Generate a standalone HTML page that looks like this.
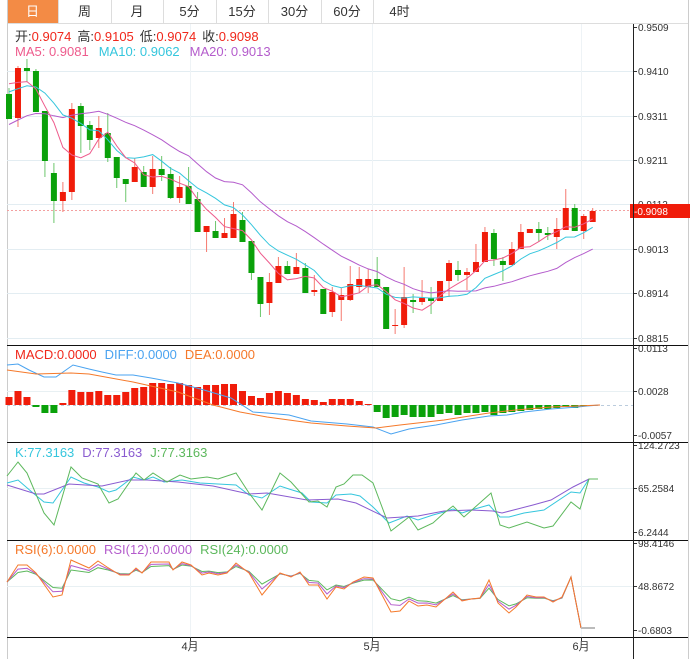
<!DOCTYPE html>
<html><head><meta charset="utf-8"><style>
body{margin:0;background:#fff;width:690px;height:659px;overflow:hidden;font-family:"Liberation Sans","Noto Sans CJK SC",sans-serif;}
svg{position:absolute;left:0;top:0}
</style></head><body>
<svg id="s" width="690" height="659" xmlns="http://www.w3.org/2000/svg" font-family="Liberation Sans, Noto Sans CJK SC, sans-serif"></svg>
<script>
var S=document.getElementById('s'),h='',SP=8.98;
function L(x1,y1,x2,y2,c,w,d){h+='<line x1="'+x1+'" y1="'+y1+'" x2="'+x2+'" y2="'+y2+'" stroke="'+c+'" stroke-width="'+(w||1)+'"'+(d?' stroke-dasharray="'+d+'"':'')+'/>';}
function R(x,y,w,hh,c){h+='<rect x="'+x+'" y="'+y+'" width="'+w+'" height="'+hh+'" fill="'+c+'"/>';}
function T(x,y,t,c,s,a){h+='<text x="'+x+'" y="'+y+'" fill="'+c+'" font-size="'+(s||12)+'"'+(a?' text-anchor="'+a+'"':'')+'>'+t+'</text>';}
function P(pts,c,w){h+='<polyline fill="none" stroke="'+c+'" stroke-width="'+(w||1)+'" points="'+pts.map(function(p){return p[0]+','+p[1]}).join(' ')+'"/>';}
var tabs=['日','周','月','5分','15分','30分','60分','4时'],tx=[7,58,111,163,216,268,321,373,426];
R(tx[0],0,51,23,'#f38b45');
for(var i=0;i<8;i++){if(i>0)L(tx[i]+.5,0,tx[i]+.5,23,'#ddd');T((tx[i]+tx[i+1])/2,16,tabs[i],i==0?'#fff':'#333',13,'middle');}
L(7,23.5,688,23.5,'#ddd');L(688.5,0,688.5,659,'#ccc');L(7.5,0,7.5,659,'#ccc');
var gy=[71,116,160,204,249,293,338];gy.forEach(function(y){L(7,y+.5,633,y+.5,'#e3edf2');});
[391,488,586].forEach(function(y){L(7,y+.5,633,y+.5,'#e8f0f3');});
[190,372,581].forEach(function(x){L(x+.5,24,x+.5,637,'#eef3f6');});
var pl=[[27,'0.9509'],[71,'0.9410'],[116,'0.9311'],[160,'0.9211'],[204,'0.9112'],[249,'0.9013'],[293,'0.8914'],[338,'0.8815'],[348,'0.0113'],[391,'0.0028'],[435,'-0.0057'],[445,'124.2723'],[488,'65.2584'],[532,'6.2444'],[543,'98.4146'],[586,'48.8672'],[630,'-0.6803']];
pl.forEach(function(p){L(633,p[0]+.5,637,p[0]+.5,'#333');T(638,p[0]+4,p[1],'#333',10);});
var C=[['g',94,119,88,119],['r',68,118,66,127],['g',68,71,59,82],['g',71,112,69,112],['g',111,161,111,177],['g',173,201,163,223],['r',192,201,182,212],['r',109,192,103,200],['g',106,126,103,153],['g',125,140,121,150],['r',128,138,116,148],['g',133,158,113,162],['g',157,178,157,188],['g',179,184,179,202],['r',167,182,158,182],['g',172,187,166,187],['r',169,187,156,194],['g',169,175,156,181],['g',174,198,167,199],['r',187,198,176,203],['g',186,204,167,204],['g',199,232,192,232],['r',226,232,226,252],['g',231,238,221,238],['r',233,238,218,238],['r',214,238,202,238],['g',220,242,212,242],['g',241,273,241,280],['g',277,304,277,317],['r',282,303,273,315],['r',266,283,257,283],['g',266,274,261,274],['r',267,274,253,274],['g',268,293,263,293],['r',290,292,275,296],['g',289,314,289,314],['r',292,312,287,317],['r',295,300,288,321],['r',284,300,266,301],['r',279,287,267,293],['r',279,287,269,293],['g',279,287,257,287],['g',287,329,287,329],['r',325,326,309,334],['r',297,325,267,328],['g',300,302,294,313],['r',298,302,280,305],['g',298,301,287,314],['r',281,301,281,301],['r',263,281,260,297],['g',270,275,261,281],['r',272,275,268,290],['r',262,272,244,272],['r',232,262,227,262],['g',233,259,229,266],['g',261,265,257,281],['r',249,265,242,265],['r',232,249,224,249],['r',229,233,229,233],['g',229,233,222,242],['g',233,235,227,240],['r',229,237,218,249],['r',208,230,189,230],['g',208,231,204,231],['r',216,231,214,239],['r',211,222,208,222]];
L(7,210.5,630,210.5,'#f3a0a0',1,'2,2');
var cl=[];
C.forEach(function(c,i){var x=9+SP*i,col=c[0]=='r'?'#f01c0a':'#0aa10a',wc=c[0]=='r'?'#f57a70':'#6cc66c';
L(x,c[3],x,c[4],wc);R(x-3,c[1],6,Math.max(1,c[2]-c[1]),col);cl.push(c[0]=='r'?c[1]:c[2]);});
var pad=[157,157,157,157,157,157,157,157,157,157,100,100,100,100,100,75,75,75,75];var all=pad.concat(cl);
function ma(n,col){var pts=[];for(var i=0;i<cl.length;i++){var s=0;for(var k=0;k<n;k++)s+=all[i+19-k];pts.push([(9+SP*i).toFixed(1),(s/n).toFixed(1)]);}P(pts,col);}
ma(20,'#b45ccc');ma(10,'#35c6dd');ma(5,'#ee5b8c');
R(630,204,60,14,'#f01c0a');T(634,215,'-0.9098','#fff',10);
h+='<text x="15" y="41" font-size="13"><tspan fill="#333">开:</tspan><tspan fill="#f0271b">0.9074</tspan><tspan fill="#333" dx="6">高:</tspan><tspan fill="#f0271b">0.9105</tspan><tspan fill="#333" dx="6">低:</tspan><tspan fill="#f0271b">0.9074</tspan><tspan fill="#333" dx="6">收:</tspan><tspan fill="#f0271b">0.9098</tspan></text>';
h+='<text x="15" y="56" font-size="13"><tspan fill="#ee5b8c">MA5: 0.9081</tspan><tspan fill="#35c6dd" dx="10">MA10: 0.9062</tspan><tspan fill="#b45ccc" dx="10">MA20: 0.9013</tspan></text>';
var hb=[397,391,397,407,413,413,403,390,392,392,391,395,395,392,388,387,383,383,384,383,385,387,385,385,384,384,391,396,398,393,391,393,395,399,400,402,399,399,399,401,404,412,418,417,415,417,417,417,414,413,415,413,413,412,415,413,412,411,410,409,409,408,407,408,406,405];
L(7,405.5,633,405.5,'#bcd',1,'3,3');
hb.forEach(function(y,i){var x=9+SP*i-3.5;if(y<405)R(x,y,7,405-y,'#f01c0a');else if(y>405)R(x,405,7,y-405,'#0aa10a');});
P([[7,365],[18,364],[29,370],[44,377],[56,377],[73,365],[89,369],[102,372],[116,375],[133,375],[151,378],[178,383],[204,390],[231,398],[253,412],[267,413],[289,415],[311,421],[347,424],[373,427],[391,434],[409,429],[436,425],[462,420],[489,416],[507,415],[524,412],[551,409],[578,407],[587,406],[600,405]],'#4aa3f0');
P([[7,370],[36,374],[71,373],[89,374],[133,382],[178,392],[213,405],[240,412],[267,417],[311,423],[347,426],[376,428],[400,425],[444,420],[489,413],[516,410],[551,407],[578,406],[600,405]],'#f5792a');
h+='<text x="15" y="359" font-size="13"><tspan fill="#f0271b">MACD:0.0000</tspan><tspan fill="#4aa3f0" dx="8">DIFF:0.0000</tspan><tspan fill="#f5792a" dx="8">DEA:0.0000</tspan></text>';
P([[7,483],[18,480],[33,493],[44,502],[53,503],[71,477],[84,483],[98,487],[109,492],[116,490],[133,477],[144,480],[153,477],[164,482],[182,480],[200,483],[218,484],[236,485],[249,495],[262,498],[280,486],[289,489],[302,493],[311,502],[327,503],[336,495],[351,494],[360,496],[373,507],[389,523],[407,516],[418,520],[433,515],[444,512],[453,509],[462,513],[471,510],[489,505],[500,517],[509,517],[524,513],[544,510],[571,492],[580,493],[589,479],[598,479]],'#35c6dd');
P([[7,485],[36,494],[44,494],[69,484],[102,486],[129,480],[147,480],[178,482],[213,486],[249,494],[267,493],[307,500],[338,499],[356,503],[387,518],[418,516],[444,511],[471,510],[493,511],[502,513],[533,505],[551,500],[573,487],[589,479],[598,479]],'#8a5bd0');
P([[7,476],[18,462],[27,473],[44,513],[54,525],[71,467],[82,478],[98,484],[109,503],[118,499],[136,473],[144,480],[153,473],[167,482],[180,475],[191,479],[207,477],[218,479],[236,473],[249,493],[262,510],[280,473],[291,482],[309,502],[318,501],[327,507],[336,487],[344,484],[353,475],[362,475],[373,483],[391,531],[409,517],[418,530],[433,523],[444,513],[453,506],[464,517],[473,509],[491,493],[500,525],[509,528],[527,522],[544,528],[553,526],[571,502],[580,509],[589,479],[598,479]],'#5cb85c');
h+='<text x="15" y="457" font-size="13"><tspan fill="#35c6dd">K:77.3163</tspan><tspan fill="#8a5bd0" dx="8">D:77.3163</tspan><tspan fill="#5cb85c" dx="8">J:77.3163</tspan></text>';
var r6=[[7,582],[18,565],[27,565],[36,573],[53,597],[62,595],[71,560],[89,568],[98,561],[107,567],[120,575],[129,575],[136,568],[142,573],[151,562],[169,562],[173,570],[182,562],[191,565],[202,575],[209,573],[218,575],[227,573],[236,563],[249,573],[262,595],[280,573],[291,577],[300,572],[309,585],[318,585],[327,599],[336,587],[344,589],[353,582],[364,577],[373,578],[391,612],[400,611],[409,601],[418,606],[427,605],[436,607],[453,592],[462,601],[471,599],[480,598],[489,580],[498,603],[509,613],[516,607],[527,595],[536,597],[544,597],[553,602],[562,597],[571,577],[581,628]];
function damp(f){var m=r6[0][1],o=[];r6.forEach(function(p,i){m=m*0.8+p[1]*0.2;o.push([p[0],(i>=r6.length-2?p[1]:(m+(p[1]-m)*f)).toFixed(1)]);});return o;}
P(damp(0.45),'#5cb85c');P(damp(0.7),'#b45ccc');P(r6,'#f5792a');
L(581,628,595,628,'#bbb',2);
h+='<text x="15" y="554" font-size="13"><tspan fill="#f5792a">RSI(6):0.0000</tspan><tspan fill="#b45ccc" dx="8">RSI(12):0.0000</tspan><tspan fill="#5cb85c" dx="8">RSI(24):0.0000</tspan></text>';
[345,442,540,637].forEach(function(y){L(7,y+.5,688,y+.5,'#111');});
L(633.5,24,633.5,659,'#222');
T(190,650,'4月','#333',11,'middle');T(372,650,'5月','#333',11,'middle');T(581,650,'6月','#333',11,'middle');
[190,372,581].forEach(function(x){L(x+.5,637,x+.5,641,'#333');});
S.innerHTML=h;
</script>
</body></html>
